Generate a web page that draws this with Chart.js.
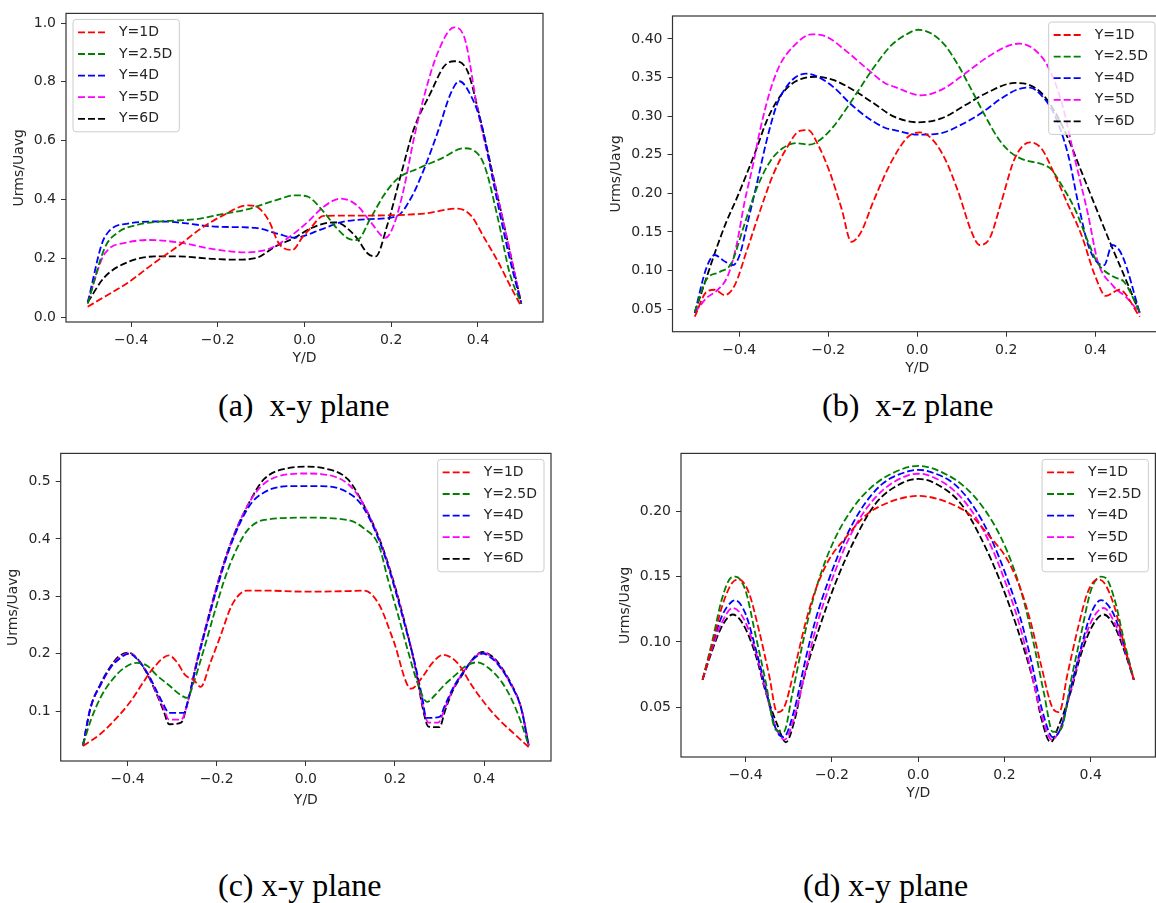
<!DOCTYPE html>
<html>
<head>
<meta charset="utf-8">
<script src="https://cdn.jsdelivr.net/npm/chart.js@4.4.1/dist/chart.umd.min.js"></script>
<style>
  body { margin: 0; width: 1156px; height: 903px; overflow: hidden; background: #fff; position: relative; }
  canvas { position: absolute; }
  .cap { position: absolute; font-family: "Liberation Serif", serif; font-size: 32px; line-height: 32px; color: #000; white-space: pre; }
</style>
</head>
<body>
<canvas id="chartA" style="left:0px;top:0px" width="560" height="380"></canvas>
<canvas id="chartB" style="left:575px;top:0px" width="600" height="380"></canvas>
<canvas id="chartC" style="left:0px;top:440px" width="570" height="380"></canvas>
<canvas id="chartD" style="left:575px;top:440px" width="600" height="380"></canvas>
<div class="cap" style="left:218px;top:389px">(a)  x-y plane</div>
<div class="cap" style="left:822px;top:389px">(b)  x-z plane</div>
<div class="cap" style="left:218px;top:869px">(c) x-y plane</div>
<div class="cap" style="left:803px;top:869px">(d) x-y plane</div>
<script>
const xTickValues = [-0.4, -0.2, 0, 0.2, 0.4];
const xTickLabels = ['\u22120.4', '\u22120.2', '0.0', '0.2', '0.4'];
const seriesLabels = ['Y=1D', 'Y=2.5D', 'Y=4D', 'Y=5D', 'Y=6D'];
const seriesColors = ['#ff0000', '#008000', '#0000ff', '#ff00ff', '#000000'];

// (a) x-y plane
const aYTicks = [0.0, 0.2, 0.4, 0.6, 0.8, 1.0];
const a1dX = [-0.5, -0.46, -0.41, -0.35, -0.29, -0.24, -0.19, -0.13, -0.105, -0.082, -0.059, -0.028, -0.005, 0.013, 0.044, 0.12, 0.276, 0.353, 0.384, 0.415, 0.446, 0.473, 0.5];
const a1dY = [0.035, 0.07, 0.114, 0.18, 0.243, 0.3, 0.344, 0.38, 0.37, 0.327, 0.25, 0.228, 0.271, 0.301, 0.344, 0.345, 0.352, 0.369, 0.345, 0.268, 0.189, 0.11, 0.035];
const a25dX = [-0.5, -0.46, -0.43, -0.384, -0.33, -0.25, -0.19, -0.13, -0.067, -0.021, 0.006, 0.044, 0.075, 0.106, 0.121, 0.152, 0.183, 0.214, 0.26, 0.314, 0.368, 0.391, 0.415, 0.446, 0.473, 0.5];
const a25dY = [0.045, 0.237, 0.288, 0.314, 0.325, 0.333, 0.35, 0.367, 0.397, 0.414, 0.41, 0.358, 0.301, 0.264, 0.262, 0.335, 0.414, 0.47, 0.504, 0.538, 0.574, 0.566, 0.515, 0.335, 0.15, 0.045];
const a4dX = [-0.5, -0.461, -0.407, -0.33, -0.198, -0.113, -0.059, -0.025, 0.044, 0.083, 0.152, 0.214, 0.245, 0.276, 0.307, 0.338, 0.357, 0.384, 0.407, 0.438, 0.473, 0.5];
const a4dY = [0.05, 0.271, 0.318, 0.325, 0.307, 0.303, 0.282, 0.27, 0.301, 0.322, 0.333, 0.344, 0.403, 0.504, 0.628, 0.763, 0.802, 0.752, 0.661, 0.44, 0.2, 0.045];
const a5dX = [-0.5, -0.461, -0.407, -0.36, -0.291, -0.214, -0.137, -0.082, -0.036, 0.01, 0.044, 0.083, 0.121, 0.152, 0.187, 0.206, 0.229, 0.252, 0.276, 0.307, 0.345, 0.368, 0.4, 0.45, 0.5];
const a5dY = [0.05, 0.215, 0.254, 0.262, 0.254, 0.232, 0.22, 0.232, 0.271, 0.327, 0.375, 0.403, 0.38, 0.324, 0.27, 0.313, 0.436, 0.605, 0.752, 0.898, 0.985, 0.954, 0.7, 0.38, 0.045];
const a6dX = [-0.5, -0.461, -0.407, -0.345, -0.291, -0.214, -0.16, -0.113, -0.067, -0.021, 0.013, 0.067, 0.083, 0.121, 0.145, 0.164, 0.191, 0.222, 0.252, 0.291, 0.322, 0.345, 0.376, 0.4, 0.45, 0.5];
const a6dY = [0.05, 0.136, 0.187, 0.206, 0.206, 0.198, 0.195, 0.2, 0.24, 0.271, 0.301, 0.322, 0.318, 0.268, 0.217, 0.206, 0.313, 0.482, 0.639, 0.763, 0.853, 0.87, 0.836, 0.706, 0.38, 0.045];

// (b) x-z plane
const bYTicks = [0.05, 0.10, 0.15, 0.20, 0.25, 0.30, 0.35, 0.40];
const b1dX = [-0.5, -0.474, -0.455, -0.433, -0.41, -0.384, -0.354, -0.324, -0.294, -0.264, -0.245, -0.223, -0.197, -0.17, -0.148, -0.126, -0.099, -0.058, -0.021, 0.006, 0.032, 0.062, 0.092, 0.122, 0.14, 0.163, 0.189, 0.219, 0.253, 0.279, 0.309, 0.339, 0.369, 0.399, 0.424, 0.454, 0.5];
const b1dY = [0.04, 0.072, 0.075, 0.068, 0.081, 0.124, 0.176, 0.224, 0.258, 0.281, 0.282, 0.263, 0.228, 0.18, 0.137, 0.15, 0.189, 0.241, 0.273, 0.279, 0.271, 0.245, 0.202, 0.15, 0.133, 0.142, 0.189, 0.245, 0.266, 0.258, 0.224, 0.185, 0.146, 0.094, 0.067, 0.075, 0.04];
const b25dX = [-0.5, -0.474, -0.444, -0.418, -0.391, -0.361, -0.331, -0.301, -0.272, -0.242, -0.219, -0.189, -0.159, -0.129, -0.099, -0.058, -0.021, 0.002, 0.032, 0.062, 0.092, 0.122, 0.152, 0.182, 0.212, 0.242, 0.279, 0.301, 0.324, 0.354, 0.384, 0.406, 0.44, 0.465, 0.5];
const b25dY = [0.046, 0.088, 0.098, 0.109, 0.155, 0.206, 0.241, 0.259, 0.265, 0.263, 0.269, 0.286, 0.31, 0.336, 0.362, 0.392, 0.407, 0.412, 0.407, 0.392, 0.366, 0.334, 0.301, 0.271, 0.252, 0.243, 0.238, 0.231, 0.211, 0.18, 0.137, 0.109, 0.092, 0.085, 0.046];
const b4dX = [-0.5, -0.474, -0.455, -0.436, -0.414, -0.399, -0.384, -0.361, -0.339, -0.316, -0.294, -0.272, -0.249, -0.227, -0.189, -0.152, -0.114, -0.073, -0.051, 0.002, 0.054, 0.099, 0.144, 0.189, 0.227, 0.253, 0.279, 0.309, 0.339, 0.361, 0.384, 0.405, 0.42, 0.438, 0.46, 0.5];
const b4dY = [0.045, 0.103, 0.12, 0.113, 0.107, 0.12, 0.155, 0.211, 0.267, 0.314, 0.338, 0.351, 0.355, 0.352, 0.338, 0.317, 0.299, 0.285, 0.282, 0.276, 0.278, 0.289, 0.304, 0.323, 0.335, 0.337, 0.327, 0.301, 0.25, 0.189, 0.133, 0.11, 0.107, 0.133, 0.12, 0.045];
const b5dX = [-0.5, -0.474, -0.448, -0.425, -0.406, -0.388, -0.369, -0.354, -0.331, -0.309, -0.279, -0.238, -0.204, -0.159, -0.114, -0.073, -0.051, 0.009, 0.054, 0.107, 0.159, 0.204, 0.23, 0.264, 0.294, 0.324, 0.354, 0.384, 0.406, 0.44, 0.47, 0.5];
const b5dY = [0.045, 0.064, 0.075, 0.094, 0.133, 0.189, 0.237, 0.28, 0.332, 0.366, 0.39, 0.406, 0.403, 0.384, 0.362, 0.343, 0.338, 0.327, 0.334, 0.355, 0.377, 0.391, 0.394, 0.386, 0.364, 0.319, 0.245, 0.172, 0.111, 0.08, 0.065, 0.045];
const b6dX = [-0.5, -0.474, -0.451, -0.429, -0.406, -0.384, -0.361, -0.339, -0.316, -0.286, -0.257, -0.227, -0.189, -0.144, -0.099, -0.051, 0.002, 0.054, 0.107, 0.159, 0.219, 0.249, 0.279, 0.309, 0.339, 0.369, 0.399, 0.437, 0.46, 0.5];
const b6dY = [0.045, 0.09, 0.129, 0.163, 0.193, 0.224, 0.258, 0.293, 0.319, 0.34, 0.349, 0.351, 0.347, 0.334, 0.317, 0.299, 0.292, 0.297, 0.314, 0.331, 0.343, 0.341, 0.33, 0.306, 0.271, 0.228, 0.185, 0.131, 0.1, 0.045];

// (c) x-y plane
const cYTicks = [0.1, 0.2, 0.3, 0.4, 0.5];
const c1dX = [-0.5, -0.461, -0.427, -0.393, -0.364, -0.341, -0.307, -0.289, -0.27, -0.251, -0.236, -0.214, -0.192, -0.165, -0.132, -0.094, 0, 0.094, 0.131, 0.164, 0.196, 0.236, 0.264, 0.284, 0.308, 0.34, 0.372, 0.404, 0.436, 0.468, 0.5];
const c1dY = [0.039, 0.06, 0.086, 0.117, 0.151, 0.176, 0.197, 0.185, 0.162, 0.154, 0.142, 0.185, 0.23, 0.286, 0.31, 0.31, 0.308, 0.309, 0.31, 0.286, 0.224, 0.139, 0.162, 0.184, 0.198, 0.184, 0.145, 0.111, 0.083, 0.06, 0.037];
const c25dX = [-0.5, -0.483, -0.461, -0.438, -0.408, -0.379, -0.356, -0.334, -0.307, -0.281, -0.266, -0.251, -0.229, -0.206, -0.184, -0.162, -0.132, -0.094, 0, 0.094, 0.131, 0.164, 0.184, 0.206, 0.229, 0.251, 0.272, 0.29, 0.31, 0.336, 0.358, 0.385, 0.41, 0.44, 0.462, 0.483, 0.5];
const c25dY = [0.041, 0.083, 0.123, 0.151, 0.175, 0.184, 0.179, 0.162, 0.145, 0.128, 0.123, 0.151, 0.207, 0.269, 0.326, 0.371, 0.414, 0.433, 0.437, 0.433, 0.418, 0.388, 0.33, 0.27, 0.205, 0.148, 0.116, 0.128, 0.145, 0.163, 0.178, 0.185, 0.175, 0.15, 0.12, 0.08, 0.04];
const c4dX = [-0.5, -0.483, -0.461, -0.438, -0.42, -0.397, -0.379, -0.356, -0.334, -0.319, -0.307, -0.274, -0.263, -0.244, -0.221, -0.199, -0.169, -0.128, -0.094, -0.034, 0, 0.034, 0.094, 0.128, 0.169, 0.199, 0.221, 0.244, 0.262, 0.27, 0.3, 0.312, 0.33, 0.355, 0.378, 0.397, 0.42, 0.44, 0.461, 0.483, 0.5];
const c4dY = [0.04, 0.106, 0.145, 0.176, 0.19, 0.2, 0.191, 0.167, 0.134, 0.111, 0.097, 0.097, 0.123, 0.185, 0.253, 0.315, 0.388, 0.456, 0.481, 0.492, 0.492, 0.492, 0.481, 0.456, 0.388, 0.315, 0.253, 0.185, 0.12, 0.088, 0.09, 0.11, 0.14, 0.17, 0.192, 0.2, 0.19, 0.172, 0.145, 0.105, 0.04];
const c5dX = [-0.5, -0.483, -0.461, -0.438, -0.42, -0.397, -0.379, -0.356, -0.334, -0.319, -0.307, -0.28, -0.265, -0.245, -0.221, -0.199, -0.169, -0.128, -0.094, -0.034, 0, 0.034, 0.094, 0.128, 0.169, 0.199, 0.221, 0.245, 0.265, 0.275, 0.297, 0.312, 0.33, 0.355, 0.378, 0.397, 0.42, 0.44, 0.461, 0.483, 0.5];
const c5dY = [0.04, 0.106, 0.145, 0.176, 0.192, 0.201, 0.192, 0.167, 0.13, 0.105, 0.085, 0.085, 0.115, 0.185, 0.255, 0.318, 0.39, 0.462, 0.496, 0.513, 0.514, 0.513, 0.496, 0.462, 0.39, 0.318, 0.255, 0.18, 0.1, 0.08, 0.08, 0.105, 0.138, 0.17, 0.193, 0.202, 0.192, 0.173, 0.145, 0.105, 0.04];
const c6dX = [-0.5, -0.483, -0.461, -0.438, -0.42, -0.397, -0.379, -0.356, -0.334, -0.319, -0.307, -0.28, -0.265, -0.245, -0.221, -0.199, -0.169, -0.128, -0.094, -0.034, 0, 0.034, 0.094, 0.128, 0.169, 0.199, 0.221, 0.245, 0.265, 0.275, 0.3, 0.312, 0.33, 0.355, 0.378, 0.397, 0.42, 0.44, 0.461, 0.483, 0.5];
const c6dY = [0.04, 0.106, 0.147, 0.178, 0.195, 0.202, 0.192, 0.165, 0.128, 0.1, 0.077, 0.08, 0.115, 0.185, 0.257, 0.32, 0.392, 0.462, 0.504, 0.524, 0.526, 0.524, 0.504, 0.462, 0.392, 0.32, 0.257, 0.178, 0.095, 0.073, 0.072, 0.1, 0.136, 0.168, 0.194, 0.203, 0.194, 0.175, 0.147, 0.106, 0.04];

// (d) x-y plane
const dYTicks = [0.05, 0.10, 0.15, 0.20];
const d1dX = [-0.5, -0.478, -0.455, -0.432, -0.416, -0.393, -0.37, -0.346, -0.327, -0.312, -0.285, -0.261, -0.238, -0.207, -0.168, -0.122, -0.076, 0, 0.076, 0.122, 0.168, 0.207, 0.238, 0.261, 0.285, 0.312, 0.327, 0.346, 0.37, 0.393, 0.416, 0.432, 0.455, 0.478, 0.5];
const d1dY = [0.071, 0.097, 0.127, 0.145, 0.148, 0.138, 0.11, 0.075, 0.046, 0.049, 0.082, 0.115, 0.14, 0.163, 0.18, 0.197, 0.206, 0.212, 0.206, 0.197, 0.18, 0.163, 0.14, 0.115, 0.082, 0.049, 0.046, 0.075, 0.11, 0.138, 0.148, 0.145, 0.127, 0.097, 0.071];
const d25dX = [-0.5, -0.478, -0.455, -0.435, -0.424, -0.401, -0.377, -0.354, -0.331, -0.312, -0.292, -0.269, -0.246, -0.223, -0.192, -0.153, -0.114, -0.068, 0, 0.068, 0.114, 0.153, 0.192, 0.223, 0.246, 0.269, 0.292, 0.312, 0.331, 0.354, 0.377, 0.401, 0.424, 0.435, 0.455, 0.478, 0.5];
const d25dY = [0.071, 0.1, 0.133, 0.149, 0.15, 0.14, 0.105, 0.07, 0.033, 0.031, 0.06, 0.097, 0.13, 0.155, 0.18, 0.202, 0.217, 0.228, 0.235, 0.228, 0.217, 0.202, 0.18, 0.155, 0.13, 0.097, 0.06, 0.031, 0.033, 0.07, 0.105, 0.14, 0.15, 0.149, 0.133, 0.1, 0.071];
const d4dX = [-0.5, -0.478, -0.455, -0.432, -0.424, -0.401, -0.377, -0.354, -0.331, -0.312, -0.288, -0.261, -0.238, -0.207, -0.168, -0.13, -0.084, -0.022, 0, 0.022, 0.084, 0.13, 0.168, 0.207, 0.238, 0.261, 0.288, 0.312, 0.331, 0.354, 0.377, 0.401, 0.424, 0.432, 0.455, 0.478, 0.5];
const d4dY = [0.071, 0.097, 0.12, 0.131, 0.132, 0.122, 0.095, 0.065, 0.034, 0.027, 0.047, 0.087, 0.117, 0.148, 0.18, 0.203, 0.221, 0.231, 0.232, 0.231, 0.221, 0.203, 0.18, 0.148, 0.117, 0.087, 0.047, 0.027, 0.034, 0.065, 0.095, 0.122, 0.132, 0.131, 0.12, 0.097, 0.071];
const d5dX = [-0.5, -0.478, -0.455, -0.43, -0.405, -0.377, -0.354, -0.331, -0.31, -0.285, -0.258, -0.235, -0.203, -0.164, -0.125, -0.08, -0.022, 0, 0.022, 0.08, 0.125, 0.164, 0.203, 0.235, 0.258, 0.285, 0.31, 0.331, 0.354, 0.377, 0.405, 0.43, 0.455, 0.478, 0.5];
const d5dY = [0.071, 0.095, 0.115, 0.126, 0.118, 0.093, 0.063, 0.035, 0.025, 0.045, 0.083, 0.113, 0.145, 0.177, 0.2, 0.217, 0.228, 0.229, 0.228, 0.217, 0.2, 0.177, 0.145, 0.113, 0.083, 0.045, 0.025, 0.035, 0.063, 0.093, 0.118, 0.126, 0.115, 0.095, 0.071];
const d6dX = [-0.5, -0.478, -0.455, -0.43, -0.405, -0.377, -0.354, -0.325, -0.307, -0.285, -0.269, -0.23, -0.192, -0.145, -0.099, -0.037, 0, 0.037, 0.099, 0.145, 0.192, 0.23, 0.269, 0.285, 0.307, 0.325, 0.354, 0.377, 0.405, 0.43, 0.455, 0.478, 0.5];
const d6dY = [0.071, 0.093, 0.112, 0.121, 0.113, 0.09, 0.062, 0.035, 0.023, 0.042, 0.067, 0.11, 0.145, 0.18, 0.206, 0.222, 0.225, 0.222, 0.206, 0.18, 0.145, 0.11, 0.067, 0.042, 0.023, 0.035, 0.062, 0.09, 0.113, 0.121, 0.112, 0.093, 0.071];

Chart.defaults.font.family = '"DejaVu Sans", sans-serif';
Chart.defaults.font.size = 14;
Chart.defaults.color = '#262626';

const framePlugin = {
  id: 'frame',
  afterDatasetsDraw(chart) {
    const ctx = chart.ctx, a = chart.chartArea;
    ctx.save();
    ctx.strokeStyle = '#333';
    ctx.lineWidth = 1.2;
    ctx.strokeRect(a.left, a.top, a.right - a.left, a.bottom - a.top);
    ctx.restore();
  }
};

// matplotlib style legend box
const boxLegend = {
  id: 'boxLegend',
  afterDraw(chart, args, opts) {
    const ctx = chart.ctx, a = chart.chartArea;
    const sets = chart.data.datasets;
    ctx.save();
    ctx.font = '14px "DejaVu Sans"';
    const textW = Math.max(...sets.map(d => ctx.measureText(d.label).width));
    const w = 5 + 29 + 12 + textW + 7;
    const h = 13 + 21.6 * (sets.length - 1) + 13;
    const x0 = opts.corner === 'left' ? a.left + 7 : a.right - 7 - w;
    const y0 = a.top + 6;
    ctx.fillStyle = 'rgba(255,255,255,0.8)';
    ctx.strokeStyle = '#cccccc';
    ctx.lineWidth = 1;
    ctx.beginPath();
    ctx.roundRect(x0, y0, w, h, 3);
    ctx.fill();
    ctx.stroke();
    sets.forEach((d, i) => {
      const yy = y0 + 13 + i * 21.6;
      ctx.strokeStyle = d.borderColor;
      ctx.lineWidth = 1.8;
      ctx.setLineDash([7, 3]);
      ctx.beginPath();
      ctx.moveTo(x0 + 5, yy);
      ctx.lineTo(x0 + 34, yy);
      ctx.stroke();
      ctx.setLineDash([]);
      ctx.fillStyle = '#262626';
      ctx.textBaseline = 'middle';
      ctx.textAlign = 'left';
      ctx.fillText(d.label, x0 + 46, yy);
    });
    ctx.restore();
  }
};

function makePanel(id, g, yTicks, decimals, xs, ys, corner) {
  const datasets = seriesLabels.map((label, i) => ({
    label: label,
    data: xs[i].map((x, j) => ({ x: x, y: ys[i][j] })),
    borderColor: seriesColors[i],
    borderWidth: 1.8,
    borderDash: [7, 3],
    pointRadius: 0,
    fill: false,
    cubicInterpolationMode: 'monotone'
  }));
  return new Chart(document.getElementById(id), {
    type: 'line',
    data: { datasets: datasets },
    options: {
      responsive: false,
      animation: false,
      devicePixelRatio: 1,
      layout: { padding: { top: g.padTop, right: g.padRight, left: 0, bottom: 0 } },
      plugins: {
        legend: { display: false },
        tooltip: { enabled: false },
        boxLegend: { corner: corner }
      },
      scales: {
        x: {
          type: 'linear',
          min: -0.55,
          max: 0.55,
          afterBuildTicks: s => { s.ticks = xTickValues.map(v => ({ value: v })); },
          afterFit: s => { s.height = g.xAxisHeight; },
          ticks: { callback: (v, i) => xTickLabels[i], padding: 5, maxRotation: 0, autoSkip: false },
          grid: { display: true, drawOnChartArea: false, drawTicks: true, tickLength: 5, color: '#333' },
          border: { display: false },
          title: { display: true, text: 'Y/D', padding: { top: 0, bottom: g.xTitlePad } }
        },
        y: {
          type: 'linear',
          min: g.yMin,
          max: g.yMax,
          afterBuildTicks: s => { s.ticks = yTicks.map(v => ({ value: v })); },
          afterFit: s => { s.width = g.yAxisWidth; },
          ticks: { callback: v => v.toFixed(decimals), padding: 5, autoSkip: false },
          grid: { display: true, drawOnChartArea: false, drawTicks: true, tickLength: 5, color: '#333' },
          border: { display: false },
          title: { display: true, text: 'Urms/Uavg', padding: { top: g.yTitlePad, bottom: 0 } }
        }
      }
    },
    plugins: [framePlugin, boxLegend]
  });
}

makePanel('chartA',
  { padTop: 11, padRight: 17, yAxisWidth: 66, xAxisHeight: 58, yMin: -0.0169, yMax: 1.0327, xTitlePad: 13.6, yTitlePad: 10.6 },
  aYTicks, 1,
  [a1dX, a25dX, a4dX, a5dX, a6dX], [a1dY, a25dY, a4dY, a5dY, a6dY], 'left');

makePanel('chartB',
  { padTop: 16, padRight: 13, yAxisWidth: 97.5, xAxisHeight: 48.3, yMin: 0.0206, yMax: 0.4298, xTitlePad: 3.6, yTitlePad: 32.6 },
  bYTicks, 2,
  [b1dX, b25dX, b4dX, b5dX, b6dX], [b1dY, b25dY, b4dY, b5dY, b6dY], 'right');

makePanel('chartC',
  { padTop: 4.7, padRight: 19, yAxisWidth: 60.7, xAxisHeight: 59, yMin: 0.013, yMax: 0.549, xTitlePad: 11.6, yTitlePad: 5.2 },
  cYTicks, 1,
  [c1dX, c25dX, c4dX, c5dX, c6dX], [c1dY, c25dY, c4dY, c5dY, c6dY], 'right');

makePanel('chartD',
  { padTop: 8.7, padRight: 19.6, yAxisWidth: 106, xAxisHeight: 63, yMin: 0.0117, yMax: 0.2446, xTitlePad: 18.3, yTitlePad: 41.6 },
  dYTicks, 2,
  [d1dX, d25dX, d4dX, d5dX, d6dX], [d1dY, d25dY, d4dY, d5dY, d6dY], 'right');
</script>
</body>
</html>
